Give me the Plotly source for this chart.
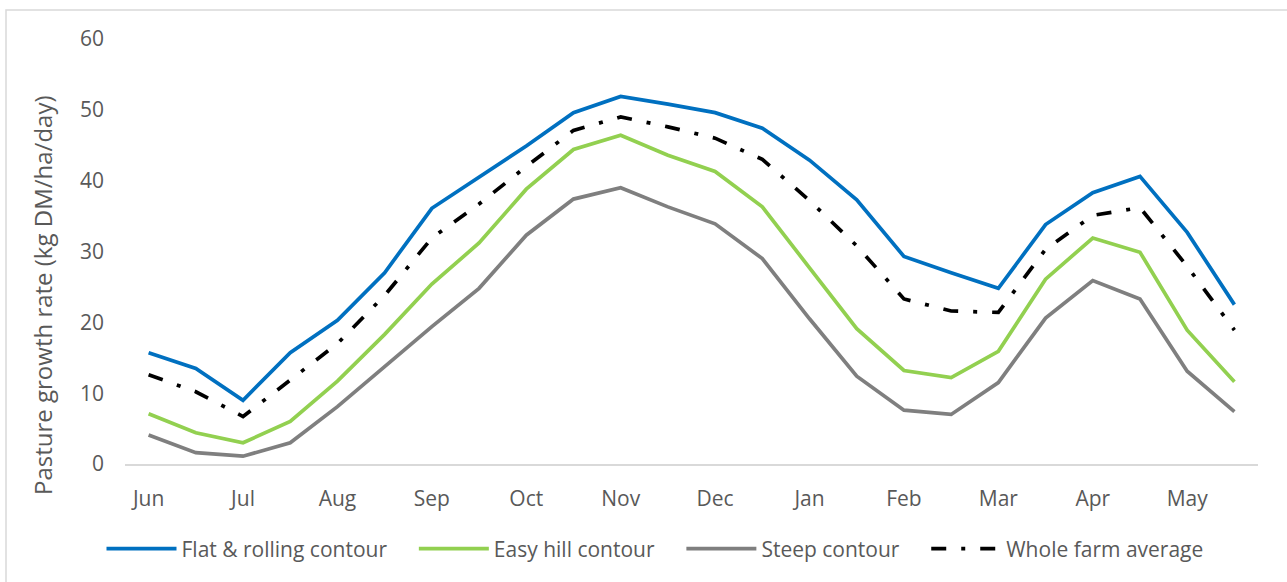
import plotly.graph_objects as go

# Half-monthly pasture growth rates, June through May (kg DM/ha/day)
months = ["Jun", "Jul", "Aug", "Sep", "Oct", "Nov", "Dec", "Jan", "Feb", "Mar", "Apr", "May"]
flat_rolling = [15.7, 13.5, 9.0, 15.7, 20.3, 27.0, 36.1, 40.5, 44.9, 49.6, 51.9, 50.8,
                49.6, 47.4, 42.9, 37.3, 29.3, 27.0, 24.8, 33.8, 38.3, 40.6, 32.7, 22.5]
easy_hill = [7.1, 4.4, 3.0, 6.0, 11.7, 18.3, 25.4, 31.2, 38.8, 44.4, 46.4, 43.6,
             41.3, 36.3, 27.7, 19.1, 13.2, 12.2, 15.9, 26.1, 31.9, 29.9, 18.9, 11.6]
steep = [4.1, 1.6, 1.1, 3.0, 8.1, 13.8, 19.4, 24.8, 32.3, 37.4, 39.0, 36.3,
         33.9, 29.0, 20.5, 12.4, 7.6, 7.0, 11.5, 20.6, 25.9, 23.3, 13.1, 7.4]
whole_farm = [12.6, 10.2, 6.7, 11.9, 17.0, 23.8, 31.9, 36.7, 42.0, 47.1, 49.0, 47.6,
              46.0, 43.0, 37.2, 30.8, 23.3, 21.6, 21.4, 30.3, 35.1, 36.2, 27.9, 18.9]

x = list(range(len(flat_rolling)))

W, H = 1287, 582
ML, MR, MT, MB = 125, 29, 39, 118
PW, PH = W - ML - MR, H - MT - MB

FONT = "Open Sans"
GREY_TEXT = "#595959"
PAD = "\u00a0" * 4  # extra room between legend entries

fig = go.Figure()
series = [
    ("Flat & rolling contour", flat_rolling, "#0070C0", "solid"),
    ("Easy hill contour", easy_hill, "#92D050", "solid"),
    ("Steep contour", steep, "#7F7F7F", "solid"),
    ("Whole farm average", whole_farm, "#000000", "15px,15px,4px,15px"),
]
for i, (name, ys, color, dash) in enumerate(series):
    label = name if i == len(series) - 1 else name + PAD
    fig.add_trace(go.Scatter(
        x=x, y=ys, name=label, mode="lines",
        line=dict(color=color, width=3.7, dash=dash),
    ))

def px_x(p):
    return (p - ML) / PW

def px_y(p):
    return (H - MB - p) / PH

fig.update_layout(
    width=W, height=H,
    margin=dict(l=ML, r=MR, t=MT, b=MB),
    paper_bgcolor="white", plot_bgcolor="white",
    font=dict(family=FONT, size=21, color=GREY_TEXT),
    showlegend=True,
    legend=dict(
        orientation="h", x=px_x(655), xanchor="center", y=px_y(549), yanchor="middle",
        font=dict(family=FONT, size=21, color=GREY_TEXT),
        itemwidth=70, bgcolor="rgba(0,0,0,0)",
    ),
    xaxis=dict(
        range=[-0.5, len(x) - 0.5],
        tickmode="array", tickvals=x[::2], ticktext=months,
        showgrid=False, zeroline=False,
        showline=True, linecolor="#D9D9D9", linewidth=1.5,
        ticks="", ticklabelstandoff=15,
        tickfont=dict(family=FONT, size=21, color=GREY_TEXT),
    ),
    yaxis=dict(
        range=[0, 60], tickmode="array", tickvals=[0, 10, 20, 30, 40, 50, 60],
        showgrid=False, zeroline=False, showline=False,
        ticks="", ticklabelstandoff=20,
        tickfont=dict(family=FONT, size=21, color=GREY_TEXT),
    ),
    annotations=[dict(
        text="Pasture growth rate (kg DM/ha/day)",
        xref="paper", yref="paper", x=px_x(42), y=px_y(295),
        xanchor="center", yanchor="middle", textangle=-90, showarrow=False,
        font=dict(family=FONT, size=24, color=GREY_TEXT),
    )],
    shapes=[dict(
        type="rect", xref="paper", yref="paper",
        x0=px_x(6), x1=px_x(W + 20), y0=px_y(H + 20), y1=px_y(10),
        line=dict(color="#D9D9D9", width=1.5), fillcolor="rgba(0,0,0,0)", layer="below",
    )],
)

fig.write_html("out.html")
